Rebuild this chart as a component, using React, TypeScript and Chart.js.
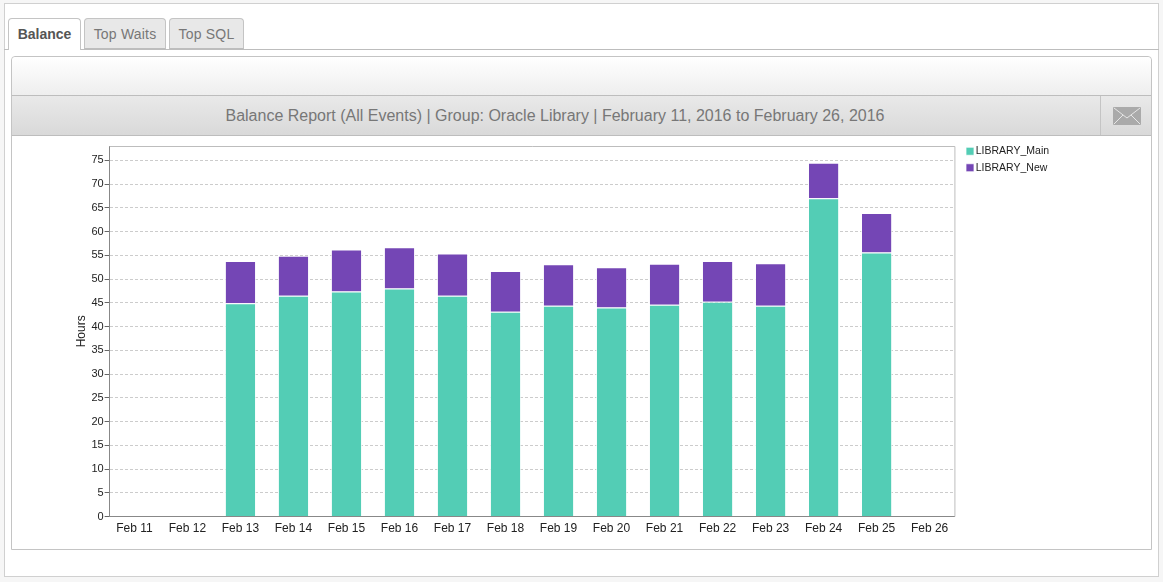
import React, { useEffect, useRef } from "react";
import { Chart, registerables } from "chart.js";

Chart.register(...registerables);

const categories = ["Feb 11","Feb 12","Feb 13","Feb 14","Feb 15","Feb 16","Feb 17","Feb 18","Feb 19","Feb 20","Feb 21","Feb 22","Feb 23","Feb 24","Feb 25","Feb 26"];
const libraryMain = [0,0,44.9,46.5,47.4,48,46.5,43.1,44.4,44,44.6,45.2,44.4,67,55.6,0];
const libraryNew = [0,0,8.9,8.4,8.8,8.7,8.9,8.6,8.7,8.5,8.6,8.6,8.9,7.5,8.3,0];
const yMax = 78;
const yStep = 5;
const yTitle = "Hours";
const title = "Balance Report (All Events) | Group: Oracle Library | February 11, 2016 to February 26, 2016";
const tabs = ["Balance", "Top Waits", "Top SQL"];

const FONT = '"Liberation Sans", Arial, sans-serif';

const frameBorder = {
  id: "frameBorder",
  beforeDatasetsDraw(chart: any) {
    const { ctx, chartArea: a } = chart;
    ctx.save();
    ctx.strokeStyle = "#bdbdbd";
    ctx.lineWidth = 1;
    ctx.beginPath();
    ctx.moveTo(a.left, a.top + 0.5);
    ctx.lineTo(a.right + 0.5, a.top + 0.5);
    ctx.lineTo(a.right + 0.5, a.bottom);
    ctx.stroke();
    ctx.restore();
  },
};

const legendPlacement = {
  id: "legendPlacement",
  afterLayout(chart: any) {
    const l = chart.legend;
    if (l) {
      l.left = 963.5;
      l.right = 1160;
      l.top = 4;
    }
    const x = chart.scales.x;
    x._startPixel -= 1.7;
    x._length += 3.4;
  },
};

const box = (l: number, t: number, w: number, h: number, extra: React.CSSProperties = {}): React.CSSProperties => ({
  position: "absolute", left: l, top: t, width: w, height: h, boxSizing: "border-box", ...extra,
});

export default function App() {
  const ref = useRef<HTMLCanvasElement>(null);
  useEffect(() => {
    document.body.style.margin = "0";
    document.body.style.background = "#f6f6f6";
    const chart = new Chart(ref.current!, {
      type: "bar",
      data: {
        labels: categories,
        datasets: [
          { label: "LIBRARY_Main", data: libraryMain, backgroundColor: "#53cdb5", borderColor: "rgba(255,255,255,0.75)", borderWidth: 1 },
          { label: "LIBRARY_New", data: libraryNew, backgroundColor: "#7446b5", borderColor: "rgba(255,255,255,0.75)", borderWidth: 1 },
        ],
      },
      plugins: [frameBorder, legendPlacement],
      options: {
        responsive: false,
        animation: false,
        layout: { padding: { left: 74, top: 10, right: 113, bottom: 9 } },
        datasets: { bar: { barPercentage: 0.6, categoryPercentage: 0.98 } },
        plugins: {
          tooltip: { enabled: false },
          legend: {
            position: "right",
            align: "start",
            labels: {
              boxWidth: 1, boxHeight: 8, padding: 6, color: "#222",
              usePointStyle: true, pointStyle: "rect",
              font: { family: FONT, size: 10.5 },
            },
          },
        },
        scales: {
          x: {
            stacked: true,
            grid: { display: false, drawTicks: false },
            border: { color: "#888888", width: 1 },
            ticks: { color: "#222", font: { family: FONT, size: 12 }, maxRotation: 0, autoSkip: false, padding: 5 },
          },
          y: {
            stacked: true,
            min: 0,
            max: yMax,
            title: { display: true, text: yTitle, color: "#222", font: { family: FONT, size: 12 }, padding: { top: 0, bottom: 2 } },
            grid: { color: "#cccccc", tickColor: "#666", tickLength: 5, lineWidth: 1 } as any,
            border: { color: "#888888", width: 1, dash: [3, 2] } as any,
            ticks: { stepSize: yStep, includeBounds: false, color: "#222", font: { family: FONT, size: 11 }, padding: 1 },
          },
        },
      },
    } as any);
    return () => chart.destroy();
  }, []);

  const tabX = [[8, 73], [84, 82], [169, 75]];
  return (
    <div style={{ position: "relative", width: 1163, height: 582, overflow: "hidden", fontFamily: FONT }}>
      <div style={box(4, 3, 1155, 574, { background: "#fff", border: "1px solid #d0d0d0" })} />
      <div style={box(4, 49, 1155, 1, { background: "#bdbdbd" })} />
      {tabs.map((t, i) => (
        <div key={t} style={box(tabX[i][0], 18, tabX[i][1], i === 0 ? 32 : 31, {
          background: i === 0 ? "#fff" : "#e8e8e8",
          border: "1px solid #c4c4c4", borderBottom: i === 0 ? "none" : "1px solid #bdbdbd",
          borderRadius: "4px 4px 0 0", textAlign: "center", lineHeight: "30px", fontSize: 14,
          letterSpacing: i === 0 ? 0 : 0.2,
          fontWeight: i === 0 ? 700 : 400, color: i === 0 ? "#555" : "#777",
        })}>{t}</div>
      ))}
      <div style={box(11, 56, 1141, 494, { background: "#fff", border: "1px solid #c4c4c4", borderRadius: "4px 4px 0 0" })} />
      <div style={box(12, 57, 1139, 38, { background: "linear-gradient(#ffffff,#eeeeee)", borderRadius: "4px 4px 0 0" })} />
      <div style={box(12, 95, 1139, 41, {
        background: "linear-gradient(#e9e9e9,#d9d9d9)", borderTop: "1px solid #bdbdbd", borderBottom: "1px solid #bdbdbd",
      })} />
      <div style={box(11, 96, 1088, 39, { textAlign: "center", lineHeight: "39px", fontSize: 16, color: "#777" })}>{title}</div>
      <div style={box(1100, 96, 1, 39, { background: "#c4c4c4" })} />
      <svg style={{ position: "absolute", left: 1113, top: 107 }} width="28" height="18" viewBox="0 0 28 18">
        <rect x="0" y="0" width="28" height="18" rx="1" fill="#aaaaaa" />
        <path d="M1 1 L14 11 L27 1 M1 17 L10 8 M27 17 L18 8" stroke="#e6e6e6" strokeWidth="1" fill="none" />
      </svg>
      <canvas ref={ref} width={1163} height={414} style={{ position: "absolute", left: 0, top: 136 }} />
    </div>
  );
}
